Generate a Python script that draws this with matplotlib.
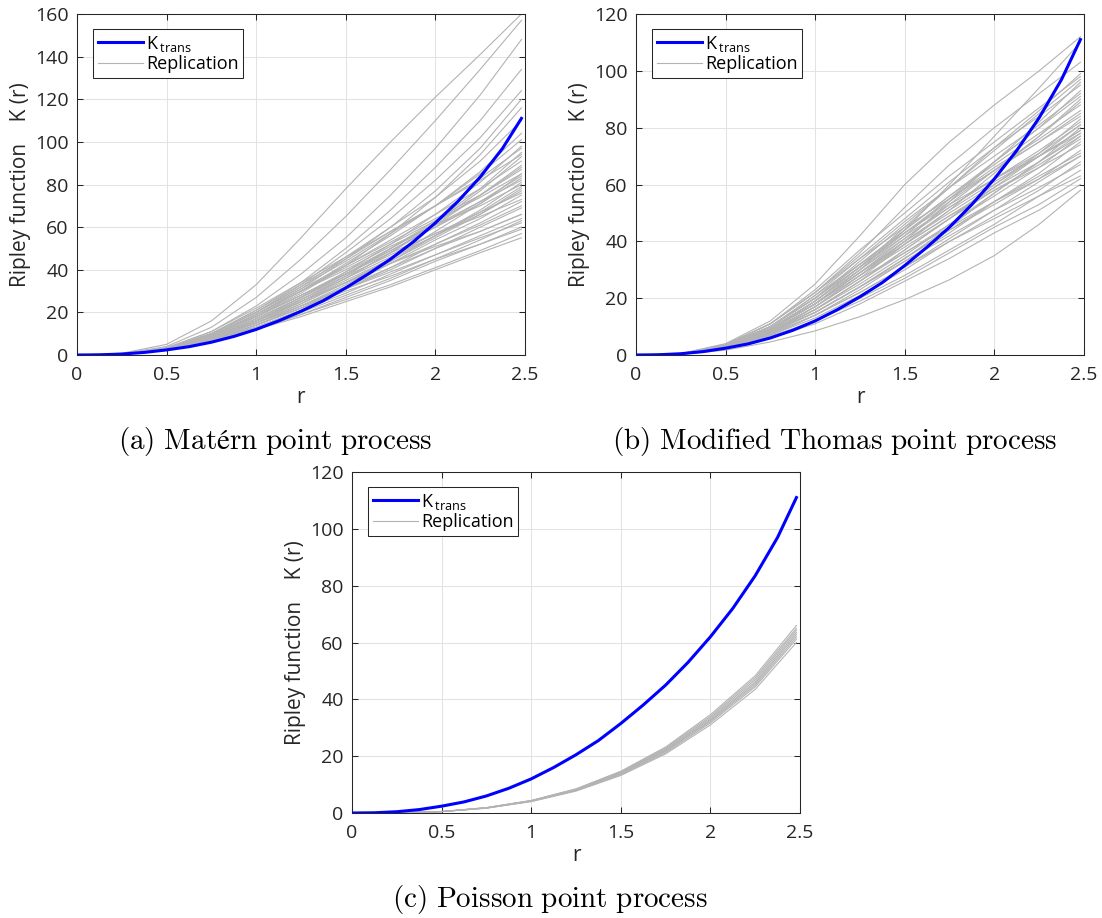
import matplotlib.pyplot as plt
import numpy as np

plt.rcParams['font.family'] = ['Open Sans', 'DejaVu Sans']
plt.rcParams['mathtext.fontset'] = 'custom'
plt.rcParams['mathtext.rm'] = 'Open Sans'
plt.rcParams['mathtext.it'] = 'Open Sans:italic'

# ---- data ----
x_ticks = [0, 0.5, 1, 1.5, 2, 2.5]
x_ticklabels = ['0', '0.5', '1', '1.5', '2', '2.5']

# K_trans, sampled finely
r_fine = [0, 0.125, 0.25, 0.375, 0.5, 0.625, 0.75, 0.875, 1.0, 1.125, 1.25,
          1.375, 1.5, 1.625, 1.75, 1.875, 2.0, 2.125, 2.25, 2.375, 2.48]
k_trans = [0, 0.08, 0.45, 1.2, 2.4, 3.9, 6.0, 8.7, 12, 16, 20.5,
           25.5, 31.5, 38, 45, 53, 62, 72, 83.5, 97, 111]

# replications, sampled on a coarser grid
r_rep = [0, 0.25, 0.5, 0.75, 1.0, 1.25, 1.5, 1.75, 2.0, 2.25, 2.48]

matern_reps = [
    [0, 0.8, 5, 16, 33, 55, 78, 100, 121, 141, 160],
    [0, 0.6, 4, 13, 27, 45, 65, 87, 110, 134, 157],
    [0, 0.5, 3.5, 11, 23, 38, 55, 75, 97, 122, 148],
    [0, 0.4, 3, 10, 21, 34, 50, 68, 88, 110, 134],
    [0, 0.3, 3, 10, 20, 33, 48, 64, 82, 102, 124],
    [0, 0.3, 3, 9, 19, 31, 45, 60, 77, 97, 120],
    [0, 0.3, 2.8, 9, 18, 29, 42, 57, 74, 94, 116],
    [0, 0.3, 3, 10, 20, 32, 46, 60, 74, 91, 110],
    [0, 0.3, 2.8, 9, 18, 30, 43, 56, 70, 86, 104],
    [0, 0.3, 3, 10, 20, 32, 44, 57, 70, 85, 101],
    [0, 0.3, 2.7, 8, 16, 27, 39, 52, 66, 81, 98],
    [0, 0.3, 3, 10, 21, 33, 45, 58, 70, 83, 97],
    [0, 0.3, 2.6, 8, 16, 26, 37, 50, 63, 78, 95],
    [0, 0.3, 3, 11, 22, 34, 46, 58, 70, 82, 94],
    [0, 0.3, 2.5, 8, 15, 25, 36, 48, 62, 77, 93],
    [0, 0.3, 2.8, 9, 19, 30, 42, 54, 66, 78, 91],
    [0, 0.3, 2.6, 8, 16, 26, 36, 48, 61, 75, 89],
    [0, 0.3, 3, 10, 20, 31, 42, 53, 64, 75, 87],
    [0, 0.3, 2.5, 8, 15, 24, 34, 45, 58, 71, 85],
    [0, 0.3, 2.7, 9, 18, 28, 38, 49, 60, 71, 83],
    [0, 0.3, 2.8, 9, 19, 30, 40, 51, 61, 70, 80],
    [0, 0.3, 2.5, 7, 14, 23, 33, 44, 56, 67, 79],
    [0, 0.3, 2.6, 8, 16, 26, 36, 46, 56, 66, 77],
    [0, 0.3, 2.4, 7, 14, 22, 32, 43, 54, 64, 75],
    [0, 0.3, 2.7, 9, 18, 28, 38, 48, 57, 65, 73],
    [0, 0.3, 2.4, 7, 13, 21, 31, 41, 52, 62, 72],
    [0, 0.3, 2.6, 8, 16, 25, 34, 43, 52, 61, 70],
    [0, 0.3, 2.5, 8, 16, 25, 34, 43, 51, 58, 66],
    [0, 0.3, 2.3, 7, 13, 21, 29, 38, 47, 56, 64],
    [0, 0.3, 2.5, 7.5, 15, 23, 31, 39, 47, 55, 62],
    [0, 0.3, 2.2, 6.5, 12, 19, 27, 35, 44, 52, 60],
    [0, 0.3, 2.4, 7, 14, 22, 30, 37, 45, 52, 59],
    [0, 0.3, 2.2, 6.5, 12, 19, 26, 33, 41, 49, 57],
    [0, 0.3, 2.2, 6.5, 12, 18, 25, 32, 40, 48, 55],
    [0, 0.3, 2.6, 8, 17, 27, 38, 50, 62, 75, 88],
    [0, 0.3, 2.8, 9, 18, 28, 39, 50, 61, 72, 82],
    [0, 0.3, 2.5, 7.5, 15, 24, 34, 44, 55, 66, 78],
    [0, 0.3, 2.7, 8.5, 17, 27, 37, 47, 57, 67, 76],
    [0, 0.3, 2.4, 7, 14, 22, 31, 40, 50, 60, 69],
    [0, 0.3, 2.6, 8, 16, 25, 35, 45, 56, 68, 81],
    [0, 0.3, 2.9, 9.5, 19, 30, 41, 52, 63, 74, 85],
    [0, 0.3, 2.5, 7.5, 15, 23, 32, 41, 50, 58, 66],
    [0, 0.3, 2.3, 7, 13, 20, 28, 36, 45, 54, 63],
    [0, 0.3, 2.7, 8.5, 17, 27, 38, 49, 60, 72, 84],
]

thomas_reps = [
    [0, 0.5, 4, 12, 25, 42, 60, 75, 88, 100, 112],
    [0, 0.3, 3, 9, 18, 30, 44, 60, 77, 94, 110],
    [0, 0.4, 3.8, 11, 22, 36, 52, 67, 80, 92, 103],
    [0, 0.3, 3, 9, 19, 31, 45, 59, 73, 86, 99],
    [0, 0.4, 3.5, 11, 23, 37, 50, 63, 75, 87, 98],
    [0, 0.3, 3.2, 10, 20, 33, 46, 59, 72, 85, 97],
    [0, 0.3, 2.8, 8, 17, 28, 40, 54, 68, 82, 96],
    [0, 0.4, 3.6, 11, 22, 35, 48, 61, 73, 84, 95],
    [0, 0.3, 3, 9, 18, 30, 42, 55, 68, 80, 93],
    [0, 0.3, 3.3, 10, 21, 34, 47, 59, 70, 81, 92],
    [0, 0.3, 2.8, 8, 17, 27, 39, 51, 64, 77, 90],
    [0, 0.3, 3.2, 10, 20, 32, 44, 56, 67, 78, 88],
    [0, 0.3, 3, 9, 19, 31, 43, 54, 65, 75, 85],
    [0, 0.4, 3.5, 11, 22, 34, 45, 55, 65, 75, 84],
    [0, 0.3, 2.7, 8, 16, 26, 37, 48, 60, 71, 83],
    [0, 0.3, 3, 9, 19, 30, 41, 52, 62, 72, 82],
    [0, 0.3, 3.2, 10, 20, 31, 42, 52, 62, 71, 81],
    [0, 0.3, 2.6, 8, 15, 24, 34, 45, 57, 68, 80],
    [0, 0.3, 3, 9, 18, 29, 40, 50, 60, 70, 79],
    [0, 0.4, 3.4, 10, 21, 32, 43, 53, 62, 70, 78],
    [0, 0.3, 2.7, 8, 16, 26, 36, 46, 56, 66, 77],
    [0, 0.3, 2.9, 9, 18, 28, 38, 48, 58, 67, 76],
    [0, 0.3, 2.5, 7, 14, 23, 33, 43, 54, 64, 75],
    [0, 0.3, 3, 9, 18, 29, 39, 49, 58, 66, 74],
    [0, 0.3, 2.6, 8, 15, 24, 34, 44, 53, 62, 72],
    [0, 0.3, 2.8, 8.5, 17, 27, 36, 45, 54, 62, 70],
    [0, 0.3, 2.4, 7, 13, 21, 30, 40, 49, 58, 68],
    [0, 0.3, 2.6, 8, 15, 24, 33, 42, 51, 59, 67],
    [0, 0.2, 2.2, 6.5, 12, 20, 28, 37, 46, 56, 65],
    [0, 0.3, 2.5, 7.5, 14, 22, 31, 40, 48, 56, 63],
    [0, 0.2, 2, 6, 11, 18, 26, 34, 43, 51, 60],
    [0, 0.2, 1.7, 4.6, 8.5, 13.5, 19.5, 26.5, 35, 46, 58],
    [0, 0.3, 2.9, 9, 18, 29, 41, 53, 65, 77, 89],
    [0, 0.3, 3.1, 9.5, 19, 31, 43, 55, 66, 76, 86],
    [0, 0.3, 2.6, 8, 16, 25, 35, 46, 57, 68, 78],
    [0, 0.3, 2.8, 8.5, 17, 28, 39, 49, 59, 68, 77],
    [0, 0.3, 2.5, 7.5, 15, 24, 34, 44, 54, 63, 71],
    [0, 0.3, 3, 9, 18, 29, 40, 51, 61, 70, 79],
    [0, 0.3, 2.4, 7, 14, 22, 31, 41, 51, 61, 70],
    [0, 0.3, 3.3, 10, 20, 32, 44, 56, 68, 80, 91],
    [0, 0.3, 2.7, 8, 16, 26, 37, 48, 59, 70, 81],
    [0, 0.3, 2.2, 6.5, 12, 19, 27, 36, 45, 53, 62],
]

poisson_reps = [
    [0, 0.05, 0.5, 1.7, 4.0, 7.7, 13.2, 20.8, 31.0, 43.5, 60.0],
    [0, 0.05, 0.5, 1.7, 4.1, 7.9, 13.5, 21.2, 31.7, 44.4, 61.2],
    [0, 0.05, 0.5, 1.8, 4.2, 8.0, 13.7, 21.6, 32.2, 45.0, 62.0],
    [0, 0.05, 0.5, 1.8, 4.2, 8.1, 13.9, 21.9, 32.6, 45.6, 62.8],
    [0, 0.05, 0.5, 1.8, 4.3, 8.2, 14.1, 22.2, 33.0, 46.2, 63.5],
    [0, 0.05, 0.5, 1.8, 4.3, 8.3, 14.3, 22.5, 33.5, 46.9, 64.3],
    [0, 0.05, 0.5, 1.9, 4.4, 8.4, 14.5, 22.9, 34.0, 47.6, 65.0],
    [0, 0.05, 0.5, 1.9, 4.4, 8.5, 14.7, 23.2, 34.6, 48.3, 66.0],
]

captions = [r'$\mathrm{(a)\ Matérn\ point\ process}$',
            r'$\mathrm{(b)\ Modified\ Thomas\ point\ process}$',
            r'$\mathrm{(c)\ Poisson\ point\ process}$']

dark = '#262626'
W, H = 1102, 918

fig = plt.figure(figsize=(W / 100, H / 100), dpi=100)


def panel(left, top, reps, ymax):
    ax = fig.add_axes([left / W, 1 - (top + 341) / H, 448 / W, 341 / H])
    for i, k in enumerate(reps):
        ax.plot(r_rep, k, color='#b3b3b3', lw=0.8, zorder=2,
                label='Replication' if i == 0 else None)
    ax.plot(r_fine, k_trans, color='#0000ff', lw=2.2, zorder=3,
            label=r'K$\,_{\rm trans}$')
    ax.set_xlim(0, 2.5)
    ax.set_ylim(0, ymax)
    ax.set_xticks(x_ticks)
    ax.set_xticklabels(x_ticklabels)
    ax.set_yticks(np.arange(0, ymax + 1, 20))
    ax.grid(True, color='#e3e3e3', lw=0.75)
    ax.set_axisbelow(True)
    ax.tick_params(direction='in', top=True, right=True, length=4, width=0.75,
                   colors=dark, labelsize=14)
    ax.tick_params(axis='x', pad=8)
    ax.tick_params(axis='y', pad=6)
    for s in ax.spines.values():
        s.set_color(dark)
        s.set_linewidth(0.75)
    ax.set_xlabel('r', fontsize=15, color=dark, labelpad=2)
    ax.set_ylabel('Ripley function    K (r)', fontsize=15, color=dark, labelpad=3)
    h, l = ax.get_legend_handles_labels()
    leg = ax.legend(h[::-1], l[::-1], loc='upper left',
                    bbox_to_anchor=(16 / 448, 1 - 15 / 341), borderaxespad=0,
                    fontsize=13, fancybox=False, framealpha=1, edgecolor=dark,
                    handlelength=2.5, handletextpad=0.2, borderpad=0.25,
                    labelspacing=0.1)
    leg.get_frame().set_linewidth(0.75)
    return ax


panel(77, 14, matern_reps, 160)
panel(636, 14, thomas_reps, 120)
panel(352, 472, poisson_reps, 120)

for (cx, cy), txt in zip([(275, 441), (835, 441), (550, 900)], captions):
    fig.text(cx / W, 1 - cy / H, txt, ha='center', va='center', fontsize=21,
             math_fontfamily='cm')

fig.savefig('out.png', dpi=100)
